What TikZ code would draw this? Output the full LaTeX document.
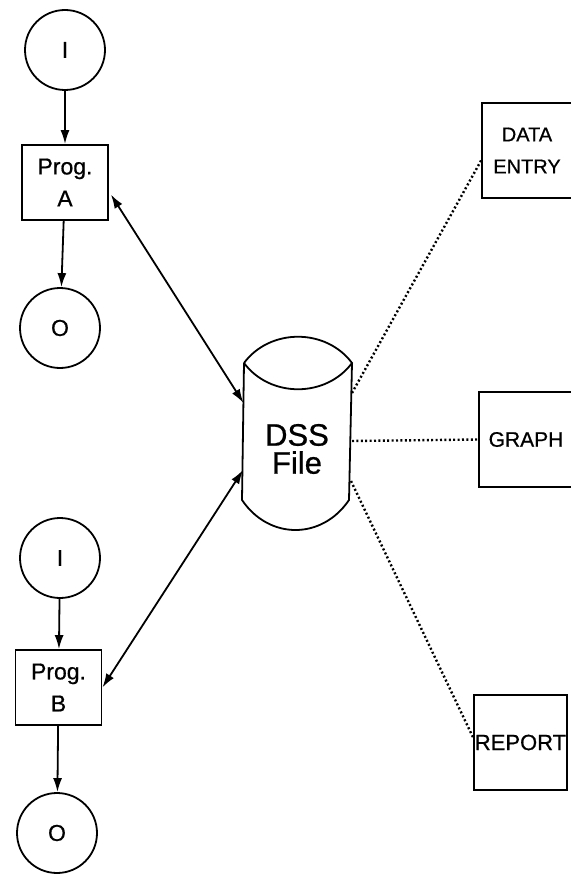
\documentclass[tikz,border=0pt]{standalone}
\usepackage{fontspec}
\setmainfont{Liberation Sans}[FakeBold=0.7]
\usetikzlibrary{arrows.meta}
\begin{document}
\begin{tikzpicture}[x=1pt,y=-1pt,
  every node/.style={font=\fontsize{20}{32}\selectfont, inner sep=0pt, align=center},
  ioc/.style={draw, circle, line width=1.8pt, minimum size=80pt, font=\fontsize{23}{32}\selectfont},
  progbox/.style={draw, rectangle, line width=1.8pt, minimum width=86pt, minimum height=75pt, font=\fontsize{23}{32}\selectfont},
  outbox/.style={draw, rectangle, line width=1.8pt, minimum height=95pt},
  flowarrow/.style={line width=1.8pt, -{Latex[length=14pt,width=9pt]}},
  biarrow/.style={line width=1.8pt, {Latex[length=14pt,width=9pt]}-{Latex[length=14pt,width=9pt]}},
  dotline/.style={line width=2.4pt, dash pattern=on 2pt off 2.4pt},
]
\useasboundingbox (0,0) rectangle (570,874);

% left top group
\node[ioc] (I1) at (65,50) {I};
\node[progbox] (A) at (65,182.5) {Prog.\\A};
\node[ioc] (O1) at (60,328) {O};
% left bottom group
\node[ioc] (I2) at (60,558) {I};
\node[progbox] (B) at (58.5,687.5) {Prog.\\B};
\node[ioc] (O2) at (57,833) {O};

% cylinder
\draw[line width=1.8pt] (244,363) .. controls (270,328) and (326,328) .. (352,363)
  .. controls (326,398) and (270,398) .. (244,363);
\draw[line width=1.8pt] (244,363) -- (242,500) .. controls (269,540) and (322,540) .. (349,500) -- (352,363);
\node[font=\fontsize{31}{28}\selectfont] (dss) at (297,449) {DSS\\File};
\coordinate (cL1) at (243.5,403);
\coordinate (cL2) at (243,470);
\coordinate (cR1) at (352,393);
\coordinate (cR2) at (352,441);
\coordinate (cR3) at (351,481);

% right boxes
\node[outbox, minimum width=90pt] (DE) at (527,150.5) {DATA\\ENTRY};
\node[outbox, minimum width=94pt, font=\fontsize{21}{32}\selectfont] (GR) at (526,439.5) {GRAPH};
\node[outbox, minimum width=93pt, font=\fontsize{22}{32}\selectfont] (RP) at (520.5,742.5) {REPORT};

% arrows
\draw[flowarrow] (I1) -- (A);
\draw[flowarrow] (A) -- (O1);
\draw[flowarrow] (I2) -- (B);
\draw[flowarrow] (B) -- (O2);
\draw[biarrow] ([shift={(2,12)}]A.east) -- (cL1);
\draw[biarrow] (cL2) -- (B.east);

% dotted links
\draw[dotline] (cR1) -- ([yshift=-10pt]DE.west);
\draw[dotline] (cR2) -- (GR.west);
\draw[dotline] (cR3) -- ([yshift=5pt]RP.west);
\end{tikzpicture}
\end{document}
